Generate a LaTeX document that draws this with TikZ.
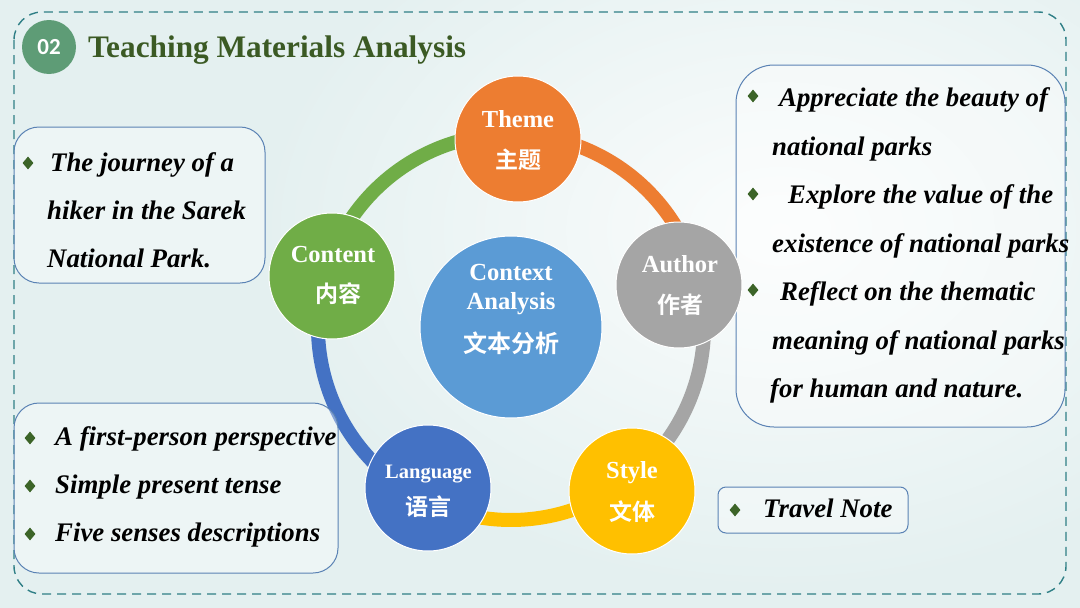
\documentclass[tikz,border=0pt]{standalone}
\usepackage{fontspec}
\setmainfont{Liberation Serif}
\newfontfamily\cjk{Noto Sans CJK SC}[BoldFont={Noto Sans CJK SC Bold}]
\newfontfamily\numfont{Carlito}
\usetikzlibrary{shapes.geometric}
\definecolor{bgc}{HTML}{E4F0F0}
\definecolor{dashc}{HTML}{2F7F86}
\definecolor{numc}{HTML}{5E9C76}
\definecolor{titlec}{HTML}{3B5A24}
\definecolor{boxc}{HTML}{5A82B4}
\definecolor{bulc}{HTML}{3C6428}
\definecolor{orangeC}{HTML}{ED7D31}
\definecolor{grayC}{HTML}{A5A5A5}
\definecolor{yellowC}{HTML}{FFC000}
\definecolor{blueC}{HTML}{4472C4}
\definecolor{greenC}{HTML}{70AD47}
\definecolor{ctxC}{HTML}{5B9BD5}
\pgfdeclarelayer{back}
\pgfdeclarelayer{ringl}
\pgfsetlayers{back,ringl,main}
\tikzset{
  ring/.style={line width=14pt},
  bub/.style={circle, minimum size=126pt, inner sep=0pt, draw=white, line width=1pt},
  en/.style={font=\bfseries\fontsize{24.5}{24.5}\selectfont, text=white, anchor=base, inner sep=0pt},
  zh/.style={font=\cjk\bfseries\fontsize{23}{23}\selectfont, text=white, inner sep=0pt},
  box/.style={draw=boxc, line width=1pt, rounded corners=25pt, fill=white, fill opacity=0.35, inner sep=0pt},
  item/.style={font=\bfseries\itshape\fontsize{26.8}{26.8}\selectfont, text=black, anchor=base west, inner sep=0pt},
  bul/.style={diamond, fill=bulc, inner sep=0pt, minimum width=11pt, minimum height=13pt}
}
\begin{document}
\begin{tikzpicture}[x=1pt,y=1pt]
\useasboundingbox (0,0) rectangle (1080,-608);
\begin{pgfonlayer}{back}
\fill[bgc] (0,0) rectangle (1080,-608);
\shade[inner color=white!85!bgc, outer color=bgc] (780,-230) ellipse (520 and 360);
\end{pgfonlayer}
% outer dashed frame
\draw[dashc, line width=1.4pt, dash pattern=on 9pt off 6pt, rounded corners=28pt] (14,-12) rectangle (1066,-594);
% title
\node[circle, fill=numc, minimum size=54pt, inner sep=0pt, text=white, font=\numfont\bfseries\fontsize{23}{23}\selectfont] (num) at (49,-47) {02};
\node[anchor=base west, inner sep=0pt, text=titlec, font=\bfseries\fontsize{31.3}{31.3}\selectfont] (title) at (88,-57) {Teaching Materials Analysis};
% boxes
\node[box, minimum width=251pt, minimum height=156pt] (b1) at (139.5,-205) {};
\node[box, minimum width=324pt, minimum height=170pt] (b3) at (176,-488) {};
\node[box, rounded corners=38pt, minimum width=329pt, minimum height=362pt] (b2) at (900.5,-246) {};
\node[box, rounded corners=8pt, minimum width=190pt, minimum height=46pt] (b4) at (813,-510) {};
% box 1 text
\node[bul] (u11) at (28,-163) {};
\node[item] (t11) at (50,-171) {The journey of a};
\node[item] (t12) at (47,-219) {hiker in the Sarek};
\node[item] (t13) at (47,-267) {National Park.};
% box 3 text
\node[bul] (u31) at (30,-438) {};
\node[bul] (u32) at (30,-486) {};
\node[bul] (u33) at (30,-534) {};
\node[item] (t31) at (55,-445) {A first-person perspective};
\node[item] (t32) at (55,-493) {Simple present tense};
\node[item] (t33) at (55,-541) {Five senses descriptions};
% right box text
\node[bul] (u21) at (753,-96) {};
\node[bul] (u22) at (753,-194) {};
\node[bul] (u23) at (753,-290) {};
\node[item] (t21) at (779,-106) {Appreciate the beauty of};
\node[item] (t22) at (772,-155) {national parks};
\node[item] (t23) at (788,-203) {Explore the value of the};
\node[item] (t24) at (772,-252) {existence of national parks};
\node[item] (t25) at (780,-300) {Reflect on the thematic};
\node[item] (t26) at (772,-349) {meaning of national parks};
\node[item] (t27) at (770,-397) {for human and nature.};
% travel note
\node[bul] (u41) at (735,-510) {};
\node[item] (t41) at (763,-517) {Travel Note};
% circles
\node[bub, fill=ctxC, minimum size=182pt] (ctx) at (511,-327) {};
\node[bub, fill=orangeC] (theme) at (518,-139) {};
\node[bub, fill=greenC] (content) at (332,-276) {};
\node[bub, fill=grayC] (author) at (679,-285) {};
\node[bub, fill=blueC] (language) at (428,-488) {};
\node[bub, fill=yellowC] (style) at (632,-491) {};
% ring
\begin{pgfonlayer}{ringl}
\draw[ring, draw=orangeC] ([shift={(88:193)}]ctx.center) arc[start angle=88, end angle=14, radius=193];
\draw[ring, draw=grayC] ([shift={(14:193)}]ctx.center) arc[start angle=14, end angle=-54, radius=193];
\draw[ring, draw=yellowC] ([shift={(-54:193)}]ctx.center) arc[start angle=-54, end angle=-117, radius=193];
\draw[ring, draw=blueC] ([shift={(-117:193)}]ctx.center) arc[start angle=-117, end angle=-196, radius=193];
\draw[ring, draw=greenC] ([shift={(164:193)}]ctx.center) arc[start angle=164, end angle=88, radius=193];
\end{pgfonlayer}
% circle labels
\node[en] (themeEn) at (518,-127) {Theme};
\node[zh] (themeZh) at (518,-160) {主题};
\node[en] (contentEn) at (333,-262) {Content};
\node[zh] (contentZh) at (338,-294) {内容};
\node[en] (authorEn) at (680,-272) {Author};
\node[zh] (authorZh) at (680,-305) {作者};
\node[en, font=\bfseries\fontsize{20.5}{20.5}\selectfont] (languageEn) at (428.5,-478) {Language};
\node[zh] (languageZh) at (428,-507) {语言};
\node[en] (styleEn) at (632,-478) {Style};
\node[zh] (styleZh) at (632.5,-512) {文体};
\node[en, font=\bfseries\fontsize{24.6}{24.6}\selectfont] (ctxEn1) at (511,-280) {Context};
\node[en, font=\bfseries\fontsize{24.6}{24.6}\selectfont] (ctxEn2) at (511,-309) {Analysis};
\node[zh, font=\cjk\bfseries\fontsize{24}{24}\selectfont] (ctxZh) at (511,-343) {文本分析};
\end{tikzpicture}
\end{document}
